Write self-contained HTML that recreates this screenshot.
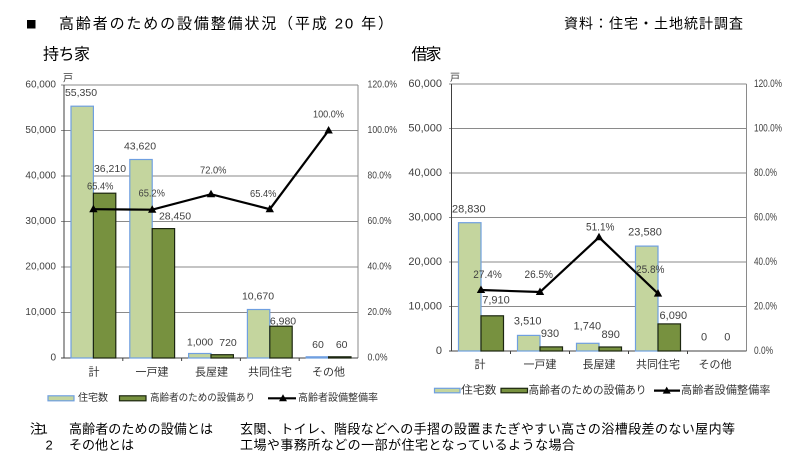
<!DOCTYPE html>
<html><head><meta charset="utf-8"><style>
html,body{margin:0;padding:0;background:#fff;}
svg{display:block;}
text{font-family:"Liberation Sans","Noto Sans CJK JP",sans-serif;}
</style></head><body>
<svg width="800" height="462" viewBox="0 0 800 462" xmlns="http://www.w3.org/2000/svg">
<rect width="800" height="462" fill="#fff"/>
<!-- Title -->
<rect x="27" y="20" width="8.5" height="8.5" fill="#000"/>
<text x="59" y="24" font-size="15" dominant-baseline="central" textLength="334" lengthAdjust="spacing" fill="#000">高齢者のための設備整備状況（平成 20 年）</text>
<text x="564" y="23.5" font-size="14" dominant-baseline="central" textLength="179" lengthAdjust="spacing" fill="#000">資料：住宅・土地統計調査</text>
<text x="43" y="55" font-size="16" dominant-baseline="central" textLength="47" lengthAdjust="spacing" fill="#000">持ち家</text>
<text x="411.5" y="55" font-size="16" dominant-baseline="central" textLength="30" lengthAdjust="spacing" fill="#000">借家</text>

<!-- LEFT CHART -->
<g>
<text x="63" y="79" font-size="10" dominant-baseline="central" fill="#404040">戸</text>
<g stroke="#8a8a8a" stroke-width="1">
<line x1="61" y1="85" x2="358" y2="85"/>
<line x1="61" y1="130.5" x2="358" y2="130.5"/>
<line x1="61" y1="176" x2="358" y2="176"/>
<line x1="61" y1="221.5" x2="358" y2="221.5"/>
<line x1="61" y1="267" x2="358" y2="267"/>
<line x1="61" y1="312.5" x2="358" y2="312.5"/>
<line x1="358" y1="85" x2="358" y2="358"/>
</g>
<g stroke="#404040" stroke-width="1">
<line x1="64" y1="85" x2="64" y2="358"/>
<line x1="61" y1="358" x2="358" y2="358"/>
<line x1="122.8" y1="358" x2="122.8" y2="361"/>
<line x1="181.6" y1="358" x2="181.6" y2="361"/>
<line x1="240.4" y1="358" x2="240.4" y2="361"/>
<line x1="299.2" y1="358" x2="299.2" y2="361"/>
</g>
<g font-size="10" fill="#404040" text-anchor="end" dominant-baseline="central">
<text x="56" y="85">60,000</text>
<text x="56" y="130.5">50,000</text>
<text x="56" y="176">40,000</text>
<text x="56" y="221.5">30,000</text>
<text x="56" y="267">20,000</text>
<text x="56" y="312.5">10,000</text>
<text x="56" y="358">0</text>
</g>
<g font-size="10" fill="#404040" dominant-baseline="central">
<text x="367.5" y="85" textLength="29.5" lengthAdjust="spacingAndGlyphs">120.0%</text>
<text x="367.5" y="130.5" textLength="29.5" lengthAdjust="spacingAndGlyphs">100.0%</text>
<text x="367.5" y="176" textLength="24" lengthAdjust="spacingAndGlyphs">80.0%</text>
<text x="367.5" y="221.5" textLength="24" lengthAdjust="spacingAndGlyphs">60.0%</text>
<text x="367.5" y="267" textLength="24" lengthAdjust="spacingAndGlyphs">40.0%</text>
<text x="367.5" y="312.5" textLength="24" lengthAdjust="spacingAndGlyphs">20.0%</text>
<text x="367.5" y="358" textLength="20" lengthAdjust="spacingAndGlyphs">0.0%</text>
</g>
<!-- bars -->
<g fill="#c4d59e" stroke="#6f9fe0" stroke-width="1.2">
<rect x="71" y="106.2" width="22.4" height="251.8"/>
<rect x="129.8" y="159.5" width="22.4" height="198.5"/>
<rect x="188.6" y="353.5" width="22.4" height="4.5"/>
<rect x="247.4" y="309.5" width="22.4" height="48.5"/>
<rect x="306.2" y="356.8" width="22.4" height="1.2"/>
</g>
<g fill="#77913f" stroke="#1c2610" stroke-width="1.2">
<rect x="93.4" y="193.2" width="22.4" height="164.8"/>
<rect x="152.2" y="228.6" width="22.4" height="129.4"/>
<rect x="211" y="354.7" width="22.4" height="3.3"/>
<rect x="269.8" y="326.2" width="22.4" height="31.8"/>
<rect x="328.6" y="356.8" width="22.4" height="1.2"/>
</g>
<!-- line -->
<polyline points="93.4,209.2 152.2,209.7 211,194.2 269.8,209.2 328.6,130.5" fill="none" stroke="#000" stroke-width="2.2"/>
<g fill="#000">
<polygon points="93.4,204.7 97.6,212.2 89.2,212.2"/>
<polygon points="152.2,205.2 156.4,212.7 148,212.7"/>
<polygon points="211,189.7 215.2,197.2 206.8,197.2"/>
<polygon points="269.8,204.7 274,212.2 265.6,212.2"/>
<polygon points="328.6,126 332.8,133.5 324.4,133.5"/>
</g>
<!-- data labels -->
<g font-size="10.5" fill="#404040" text-anchor="middle" dominant-baseline="central">
<text x="81" y="93">55,350</text>
<text x="110" y="169">36,210</text>
<text x="140" y="146.7">43,620</text>
<text x="175" y="216.7">28,450</text>
<text x="258" y="296.7">10,670</text>
<text x="283" y="321.7">6,980</text>
<text x="200" y="342.3">1,000</text>
<text x="228" y="343">720</text>
<text x="318" y="345">60</text>
<text x="341.7" y="345">60</text>
</g>
<g font-size="10.5" fill="#404040" dominant-baseline="central">
<text x="87" y="186.7" textLength="26.5" lengthAdjust="spacingAndGlyphs">65.4%</text>
<text x="138.5" y="193.5" textLength="26.5" lengthAdjust="spacingAndGlyphs">65.2%</text>
<text x="200" y="170.7" textLength="26.5" lengthAdjust="spacingAndGlyphs">72.0%</text>
<text x="250" y="194" textLength="26.5" lengthAdjust="spacingAndGlyphs">65.4%</text>
<text x="313" y="114.3" textLength="31" lengthAdjust="spacingAndGlyphs">100.0%</text>
</g>
<!-- categories -->
<g font-size="11" fill="#333" text-anchor="middle" dominant-baseline="central">
<text x="94" y="372.7">計</text>
<text x="152" y="372.7">一戸建</text>
<text x="211.5" y="372.7">長屋建</text>
<text x="270" y="372.7">共同住宅</text>
<text x="328.5" y="372.7">その他</text>
</g>
<!-- legend -->
<rect x="48" y="395.8" width="26" height="5" fill="#c4d59e" stroke="#6f9fe0" stroke-width="1.2"/>
<rect x="119.5" y="395.8" width="26.5" height="5" fill="#77913f" stroke="#1c2610" stroke-width="1.2"/>
<line x1="268" y1="398.3" x2="296" y2="398.3" stroke="#000" stroke-width="2.2"/>
<polygon points="283,394.3 287,401.3 279,401.3" fill="#000"/>
<g font-size="10" fill="#333" dominant-baseline="central">
<text x="78" y="398.3">住宅数</text>
<text x="150" y="398.3" textLength="105" lengthAdjust="spacingAndGlyphs">高齢者のための設備あり</text>
<text x="298" y="398.3" textLength="80" lengthAdjust="spacingAndGlyphs">高齢者設備整備率</text>
</g>
</g>

<!-- RIGHT CHART -->
<g>
<text x="450" y="78.5" font-size="10" dominant-baseline="central" fill="#404040">戸</text>
<g stroke="#8a8a8a" stroke-width="1">
<line x1="449" y1="84" x2="746.5" y2="84"/>
<line x1="449" y1="128.5" x2="746.5" y2="128.5"/>
<line x1="449" y1="173" x2="746.5" y2="173"/>
<line x1="449" y1="217.5" x2="746.5" y2="217.5"/>
<line x1="449" y1="262" x2="746.5" y2="262"/>
<line x1="449" y1="306.5" x2="746.5" y2="306.5"/>
<line x1="746.5" y1="84" x2="746.5" y2="351"/>
</g>
<g stroke="#404040" stroke-width="1">
<line x1="451.5" y1="84" x2="451.5" y2="351"/>
<line x1="449" y1="351" x2="746.5" y2="351"/>
<line x1="510.5" y1="351" x2="510.5" y2="354"/>
<line x1="569.5" y1="351" x2="569.5" y2="354"/>
<line x1="628.5" y1="351" x2="628.5" y2="354"/>
<line x1="687.5" y1="351" x2="687.5" y2="354"/>
</g>
<g font-size="11" fill="#404040" text-anchor="end" dominant-baseline="central">
<text x="442" y="84">60,000</text>
<text x="442" y="128.5">50,000</text>
<text x="442" y="173">40,000</text>
<text x="442" y="217.5">30,000</text>
<text x="442" y="262">20,000</text>
<text x="442" y="306.5">10,000</text>
<text x="442" y="351">0</text>
</g>
<g font-size="11" fill="#404040" dominant-baseline="central">
<text x="754" y="84" textLength="28" lengthAdjust="spacingAndGlyphs">120.0%</text>
<text x="754" y="128.5" textLength="28" lengthAdjust="spacingAndGlyphs">100.0%</text>
<text x="754" y="173" textLength="23" lengthAdjust="spacingAndGlyphs">80.0%</text>
<text x="754" y="217.5" textLength="23" lengthAdjust="spacingAndGlyphs">60.0%</text>
<text x="754" y="262" textLength="23" lengthAdjust="spacingAndGlyphs">40.0%</text>
<text x="754" y="306.5" textLength="23" lengthAdjust="spacingAndGlyphs">20.0%</text>
<text x="754" y="351" textLength="19" lengthAdjust="spacingAndGlyphs">0.0%</text>
</g>
<g fill="#c4d59e" stroke="#6f9fe0" stroke-width="1.2">
<rect x="458.5" y="222.7" width="22.5" height="128.3"/>
<rect x="517.5" y="335.4" width="22.5" height="15.6"/>
<rect x="576.5" y="343.3" width="22.5" height="7.7"/>
<rect x="635.5" y="246.1" width="22.5" height="104.9"/>
</g>
<g fill="#77913f" stroke="#1c2610" stroke-width="1.2">
<rect x="481" y="315.8" width="22.5" height="35.2"/>
<rect x="540" y="346.9" width="22.5" height="4.1"/>
<rect x="599" y="347" width="22.5" height="4"/>
<rect x="658" y="323.9" width="22.5" height="27.1"/>
</g>
<polyline points="481,290 540,292 599,237.3 658,293.6" fill="none" stroke="#000" stroke-width="2.2"/>
<g fill="#000">
<polygon points="481,285.5 485.2,293 476.8,293"/>
<polygon points="540,287.5 544.2,295 535.8,295"/>
<polygon points="599,232.8 603.2,240.3 594.8,240.3"/>
<polygon points="658,289.1 662.2,296.6 653.8,296.6"/>
</g>
<g font-size="11" fill="#404040" text-anchor="middle" dominant-baseline="central">
<text x="468.8" y="209.3">28,830</text>
<text x="496" y="300.7">7,910</text>
<text x="527.7" y="321.7">3,510</text>
<text x="550" y="334">930</text>
<text x="587.3" y="326.7">1,740</text>
<text x="610.7" y="335">890</text>
<text x="645" y="232.7">23,580</text>
<text x="673.3" y="316">6,090</text>
<text x="704" y="337.3">0</text>
<text x="727.3" y="337.3">0</text>
</g>
<g font-size="11" fill="#404040" dominant-baseline="central">
<text x="473.3" y="275" textLength="28.5" lengthAdjust="spacingAndGlyphs">27.4%</text>
<text x="524.5" y="275" textLength="28.5" lengthAdjust="spacingAndGlyphs">26.5%</text>
<text x="586" y="227.7" textLength="28.5" lengthAdjust="spacingAndGlyphs">51.1%</text>
<text x="636" y="270" textLength="28.5" lengthAdjust="spacingAndGlyphs">25.8%</text>
</g>
<g font-size="11" fill="#333" text-anchor="middle" dominant-baseline="central">
<text x="480" y="365">計</text>
<text x="540" y="365">一戸建</text>
<text x="599" y="365">長屋建</text>
<text x="658" y="365">共同住宅</text>
<text x="715" y="365">その他</text>
</g>
<rect x="434.5" y="388.3" width="25.5" height="4.5" fill="#c4d59e" stroke="#6f9fe0" stroke-width="1.2"/>
<rect x="501" y="388.3" width="26.5" height="4.5" fill="#77913f" stroke="#1c2610" stroke-width="1.2"/>
<line x1="654" y1="390.6" x2="680" y2="390.6" stroke="#000" stroke-width="2.2"/>
<polygon points="666.7,386.6 670.7,393.6 662.7,393.6" fill="#000"/>
<g font-size="11" fill="#333" dominant-baseline="central">
<text x="461" y="390.7" textLength="35.5" lengthAdjust="spacingAndGlyphs">住宅数</text>
<text x="528.5" y="390.7" textLength="118" lengthAdjust="spacingAndGlyphs">高齢者のための設備あり</text>
<text x="681" y="390.7" textLength="89.5" lengthAdjust="spacingAndGlyphs">高齢者設備整備率</text>
</g>
</g>

<!-- Footer notes -->
<g font-size="13" fill="#000" dominant-baseline="central">
<text x="30" y="429">注</text>
<text x="40.5" y="429">1</text>
<text x="69" y="429" textLength="144" lengthAdjust="spacing">高齢者のための設備とは</text>
<text x="240" y="429" textLength="495" lengthAdjust="spacing">玄関、トイレ、階段などへの手摺の設置またぎやすい高さの浴槽段差のない屋内等</text>
<text x="45.5" y="445">2</text>
<text x="69" y="445" textLength="65" lengthAdjust="spacing">その他とは</text>
<text x="240" y="445" textLength="335" lengthAdjust="spacing">工場や事務所などの一部が住宅となっているような場合</text>
</g>
</svg>
</body></html>
